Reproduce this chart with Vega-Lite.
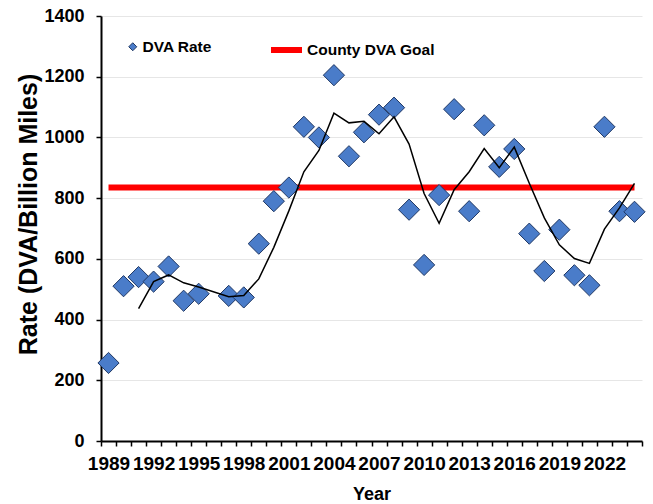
{
  "$schema": "https://vega.github.io/schema/vega-lite/v6.json",
  "width": 541,
  "height": 425,
  "autosize": "none",
  "padding": {"left": 101, "top": 16, "right": 11, "bottom": 63},
  "background": "white",
  "config": {
    "font": "Liberation Sans",
    "view": {"stroke": null},
    "axisX": {"labelOverlap": false, "ticks": true}
  },
  "datasets": {
    "dva": [
      {"year": 1989, "rate": 257, "series": "DVA Rate"},
      {"year": 1990, "rate": 510, "series": "DVA Rate"},
      {"year": 1991, "rate": 540, "series": "DVA Rate"},
      {"year": 1992, "rate": 525, "series": "DVA Rate"},
      {"year": 1993, "rate": 575, "series": "DVA Rate"},
      {"year": 1994, "rate": 462, "series": "DVA Rate"},
      {"year": 1995, "rate": 485, "series": "DVA Rate"},
      {"year": 1997, "rate": 478, "series": "DVA Rate"},
      {"year": 1998, "rate": 473, "series": "DVA Rate"},
      {"year": 1999, "rate": 650, "series": "DVA Rate"},
      {"year": 2000, "rate": 790, "series": "DVA Rate"},
      {"year": 2001, "rate": 835, "series": "DVA Rate"},
      {"year": 2002, "rate": 1035, "series": "DVA Rate"},
      {"year": 2003, "rate": 1000, "series": "DVA Rate"},
      {"year": 2004, "rate": 1205, "series": "DVA Rate"},
      {"year": 2005, "rate": 938, "series": "DVA Rate"},
      {"year": 2006, "rate": 1017, "series": "DVA Rate"},
      {"year": 2007, "rate": 1075, "series": "DVA Rate"},
      {"year": 2008, "rate": 1098, "series": "DVA Rate"},
      {"year": 2009, "rate": 762, "series": "DVA Rate"},
      {"year": 2010, "rate": 580, "series": "DVA Rate"},
      {"year": 2011, "rate": 810, "series": "DVA Rate"},
      {"year": 2012, "rate": 1093, "series": "DVA Rate"},
      {"year": 2013, "rate": 757, "series": "DVA Rate"},
      {"year": 2014, "rate": 1040, "series": "DVA Rate"},
      {"year": 2015, "rate": 903, "series": "DVA Rate"},
      {"year": 2016, "rate": 962, "series": "DVA Rate"},
      {"year": 2017, "rate": 683, "series": "DVA Rate"},
      {"year": 2018, "rate": 560, "series": "DVA Rate"},
      {"year": 2019, "rate": 696, "series": "DVA Rate"},
      {"year": 2020, "rate": 546, "series": "DVA Rate"},
      {"year": 2021, "rate": 513, "series": "DVA Rate"},
      {"year": 2022, "rate": 1035, "series": "DVA Rate"},
      {"year": 2023, "rate": 757, "series": "DVA Rate"},
      {"year": 2024, "rate": 755, "series": "DVA Rate"}
    ],
    "trend": [
      {"year": 1991, "rate": 436},
      {"year": 1992, "rate": 525},
      {"year": 1993, "rate": 547},
      {"year": 1994, "rate": 521},
      {"year": 1995, "rate": 507},
      {"year": 1997, "rate": 475},
      {"year": 1998, "rate": 479},
      {"year": 1999, "rate": 534},
      {"year": 2000, "rate": 638},
      {"year": 2001, "rate": 758},
      {"year": 2002, "rate": 887},
      {"year": 2003, "rate": 957},
      {"year": 2004, "rate": 1080},
      {"year": 2005, "rate": 1048},
      {"year": 2006, "rate": 1053},
      {"year": 2007, "rate": 1012},
      {"year": 2008, "rate": 1068},
      {"year": 2009, "rate": 978},
      {"year": 2010, "rate": 815},
      {"year": 2011, "rate": 717},
      {"year": 2012, "rate": 828},
      {"year": 2013, "rate": 887},
      {"year": 2014, "rate": 963},
      {"year": 2015, "rate": 900},
      {"year": 2016, "rate": 968},
      {"year": 2017, "rate": 849},
      {"year": 2018, "rate": 735},
      {"year": 2019, "rate": 646},
      {"year": 2020, "rate": 601},
      {"year": 2021, "rate": 585},
      {"year": 2022, "rate": 698},
      {"year": 2023, "rate": 768},
      {"year": 2024, "rate": 849}
    ],
    "goal": [
      {"year": 1989, "year_end": 2024, "rate": 835, "series": "County DVA Goal"}
    ]
  },
  "encoding": {
    "x": {
      "field": "year",
      "type": "quantitative",
      "scale": {"domain": [1988.5, 2024.5], "nice": false, "zero": false},
      "axis": {
        "values": [1988.5, 1989.5, 1990.5, 1991.5, 1992.5, 1993.5, 1994.5, 1995.5, 1996.5, 1997.5, 1998.5, 1999.5, 2000.5, 2001.5, 2002.5, 2003.5, 2004.5, 2005.5, 2006.5, 2007.5, 2008.5, 2009.5, 2010.5, 2011.5, 2012.5, 2013.5, 2014.5, 2015.5, 2016.5, 2017.5, 2018.5, 2019.5, 2020.5, 2021.5, 2022.5, 2023.5, 2024.5],
        "labelExpr": "(datum.value - 1988.5) % 3 === 0 && datum.value < 2024 ? toString(datum.value + 0.5) : ''",
        "labelOffset": 7.5,
        "labelOverlap": false,
        "labelFlush": false,
        "labelBound": false,
        "labelFont": "Liberation Sans",
        "labelFontSize": 19,
        "labelFontWeight": "bold",
        "labelColor": "black",
        "labelPadding": 8,
        "ticks": true,
        "tickSize": 5,
        "tickColor": "black",
        "tickWidth": 1.5,
        "domainColor": "black",
        "domainWidth": 2,
        "grid": false,
        "title": "Year",
        "titleFont": "Liberation Sans",
        "titleFontSize": 18,
        "titleFontWeight": "bold",
        "titleColor": "black",
        "titlePadding": 12
      }
    },
    "y": {
      "field": "rate",
      "type": "quantitative",
      "scale": {"domain": [0, 1400], "nice": false},
      "axis": {
        "values": [0, 200, 400, 600, 800, 1000, 1200, 1400],
        "format": "d",
        "labelFont": "Liberation Sans",
        "labelFontSize": 18,
        "labelFontWeight": "bold",
        "labelColor": "black",
        "labelPadding": 12,
        "tickSize": 5,
        "tickColor": "black",
        "tickWidth": 1.5,
        "domainColor": "black",
        "domainWidth": 2,
        "grid": true,
        "gridColor": "#e6e6e6",
        "gridWidth": 1,
        "title": "Rate (DVA/Billion Miles)",
        "titleFont": "Liberation Sans",
        "titleFontSize": 25,
        "titleFontWeight": "bold",
        "titleColor": "black",
        "titlePadding": 2,
        "titleY": 198
      }
    }
  },
  "layer": [
    {
      "data": {"name": "goal"},
      "mark": {"type": "rule", "strokeWidth": 6},
      "encoding": {
        "x2": {"field": "year_end"},
        "stroke": {
          "field": "series",
          "type": "nominal",
          "scale": {"range": ["#ff0000"]},
          "legend": {
            "orient": "none",
            "legendX": 167,
            "legendY": 15.5,
            "title": null,
            "padding": 0,
            "symbolType": "stroke",
            "symbolSize": 961,
            "symbolStrokeWidth": 6,
            "labelFont": "Liberation Sans",
            "labelFontSize": 15.5,
            "labelFontWeight": "bold",
            "labelColor": "black",
            "labelOffset": 2
          }
        }
      }
    },
    {
      "data": {"name": "dva"},
      "mark": {"type": "point", "shape": "diamond", "filled": true, "size": 450, "stroke": "#203864", "strokeWidth": 1, "opacity": 1},
      "encoding": {
        "fill": {
          "field": "series",
          "type": "nominal",
          "scale": {"range": ["#4a7cc9"]},
          "legend": {
            "orient": "none",
            "legendX": 24,
            "legendY": 23,
            "title": null,
            "padding": 0,
            "symbolType": "diamond",
            "symbolSize": 64,
            "symbolStrokeColor": "#203864",
            "symbolStrokeWidth": 1,
            "labelFont": "Liberation Sans",
            "labelFontSize": 15.5,
            "labelFontWeight": "bold",
            "labelColor": "black",
            "labelOffset": 2
          }
        }
      }
    },
    {
      "data": {"name": "trend"},
      "mark": {"type": "line", "color": "black", "strokeWidth": 1.5}
    }
  ]
}
